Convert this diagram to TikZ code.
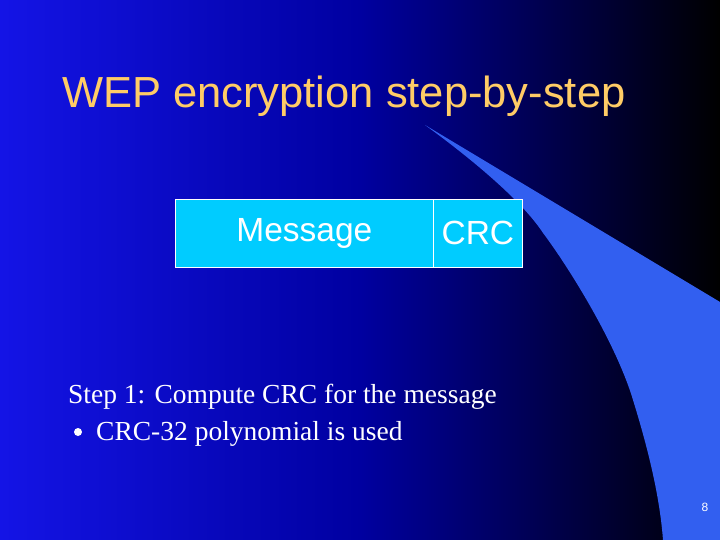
\documentclass[tikz,border=0pt]{standalone}
\usepackage{fontspec}
\setmainfont{Liberation Serif}
\newfontfamily\arial{Liberation Sans}
\definecolor{bgl}{RGB}{20,20,230}
\definecolor{bgm}{RGB}{0,0,160}
\definecolor{swoosh}{RGB}{50,95,240}
\definecolor{cyanbox}{RGB}{0,204,255}
\definecolor{titlec}{RGB}{255,204,102}
\begin{document}
\begin{tikzpicture}[x=1pt,y=-1pt,
  cell/.style={draw=white,line width=0.8pt,fill=cyanbox,minimum height=68pt,inner sep=0pt,text=white,font=\arial\fontsize{33.5}{33.5}\selectfont},
  body/.style={text=white,anchor=base west,inner sep=0pt,font=\fontsize{27.5}{27.5}\selectfont}]
\useasboundingbox (0,0) rectangle (720,540);
\shade[left color=bgl,right color=black,middle color=bgm] (0,0) rectangle (720,540);
\fill[swoosh] (425,125) -- (720,302) -- (720,540) -- (663,540)
  .. controls (660,500) and (650,455) .. (633,400)
  .. controls (615,340) and (565,262) .. (543,233)
  .. controls (525,205) and (480,165) .. (425,125) -- cycle;
\node[anchor=base west,inner sep=0pt,text=titlec,font=\arial\fontsize{43.5}{43.5}\selectfont] (title) at (62,108) {WEP encryption step-by-step};
\node[cell,minimum width=258pt,anchor=north west] (msg) at (175,199) {Message};
\node[cell,minimum width=89pt,anchor=north west] (crc) at (433,199) {CRC};
\node[body] (s1) at (68,403) {Step 1: Compute CRC for the message};
\node[body] (s2) at (96,440) {CRC-32 polynomial is used};
\fill[white] (78,432) circle (4);
\node[text=white,font=\arial\fontsize{12}{12}\selectfont,inner sep=0pt] (pg) at (705,507) {8};
\end{tikzpicture}
\end{document}
